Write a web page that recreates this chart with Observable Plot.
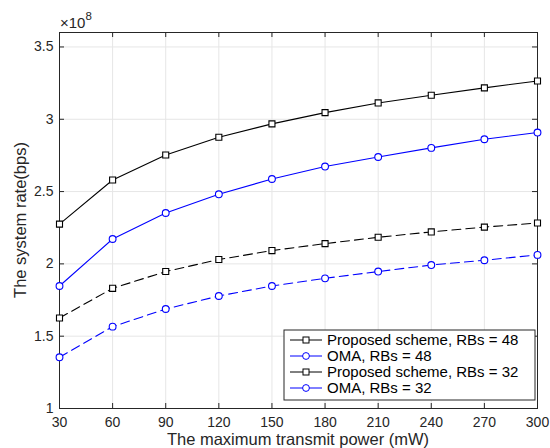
<!DOCTYPE html>
<html>
<head>
<meta charset="utf-8">
<script src="https://cdn.jsdelivr.net/npm/d3@7"></script>
<script src="https://cdn.jsdelivr.net/npm/@observablehq/plot@0.6"></script>
<style>
  html, body { margin: 0; padding: 0; background: #ffffff; }
  #chart { width: 550px; height: 448px; }
</style>
</head>
<body>
<div id="chart"></div>
<script>
// ---- data (values in units of 1e8 bps) ----
const power = [30, 60, 90, 120, 150, 180, 210, 240, 270, 300];
const proposed48 = [2.275, 2.580, 2.753, 2.876, 2.968, 3.046, 3.113, 3.166, 3.217, 3.265];
const oma48      = [1.847, 2.172, 2.352, 2.481, 2.587, 2.673, 2.739, 2.802, 2.862, 2.908];
const proposed32 = [1.626, 1.831, 1.947, 2.030, 2.092, 2.140, 2.184, 2.221, 2.254, 2.283];
const oma32      = [1.354, 1.566, 1.688, 1.778, 1.847, 1.900, 1.947, 1.992, 2.025, 2.062];
const seriesNames = ["Proposed scheme, RBs = 48", "OMA, RBs = 48", "Proposed scheme, RBs = 32", "OMA, RBs = 32"];
const xTicks = [30, 60, 90, 120, 150, 180, 210, 240, 270, 300];
const yTicks = [1, 1.5, 2, 2.5, 3, 3.5];
const yTickLabels = ["1", "1.5", "2", "2.5", "3", "3.5"];
const xLabel = "The maximum transmit power (mW)";
const yLabel = "The system rate(bps)";
const multiplierBase = "\u00D710";
const multiplierExp = "8";

// ---- styles ----
const seriesValues = [proposed48, oma48, proposed32, oma32];
const seriesStyle = [
  {color: "#000000", dash: null,  symbol: "square"},
  {color: "#0000ff", dash: null,  symbol: "circle"},
  {color: "#000000", dash: "9,5", symbol: "square"},
  {color: "#0000ff", dash: "9,5", symbol: "circle"}
];
const axisColor = "#262626";
const gridColor = "#e6e6e6";
const W = 550, H = 448;
const M = {left: 59, right: 13, top: 32, bottom: 40};
const font = "'Liberation Sans', Arial, Helvetica, sans-serif";

const series = seriesNames.map((name, k) =>
  power.map((p, i) => ({x: p, y: seriesValues[k][i], s: name}))
);

const marks = [
  Plot.gridX(xTicks, {stroke: gridColor, strokeOpacity: 1}),
  Plot.gridY(yTicks, {stroke: gridColor, strokeOpacity: 1}),
  Plot.frame({stroke: axisColor, strokeWidth: 1}),
  // inward tick marks on all four sides
  Plot.ruleX(xTicks, {x: d => d, y1: 1, y2: 1, insetTop: -5, stroke: axisColor}),
  Plot.ruleX(xTicks, {x: d => d, y1: 3.6, y2: 3.6, insetBottom: -5, stroke: axisColor}),
  Plot.ruleY(yTicks, {y: d => d, x1: 30, x2: 30, insetRight: -5, stroke: axisColor}),
  Plot.ruleY(yTicks, {y: d => d, x1: 300, x2: 300, insetLeft: -5, stroke: axisColor}),
  Plot.axisX(xTicks, {tickSize: 0, tickPadding: 9, label: null, tickFormat: d => String(d), fill: axisColor}),
  Plot.axisY(yTicks, {tickSize: 0, tickPadding: 6, label: null, tickFormat: d => yTickLabels[yTicks.indexOf(d)], fill: axisColor})
];
series.forEach((rows, k) => {
  const st = seriesStyle[k];
  marks.push(Plot.line(rows, {x: "x", y: "y", stroke: st.color, strokeWidth: 1.1, strokeDasharray: st.dash}));
  marks.push(Plot.dot(rows, {x: "x", y: "y", symbol: st.symbol, r: 3.4, stroke: st.color, strokeWidth: 1.1, fill: "white"}));
});

const chart = Plot.plot({
  width: W, height: H,
  marginLeft: M.left, marginRight: M.right, marginTop: M.top, marginBottom: M.bottom,
  style: {fontFamily: font, fontSize: "14px", color: axisColor, background: "white"},
  x: {domain: [30, 300]},
  y: {domain: [1, 3.6]},
  marks
});
document.getElementById("chart").appendChild(chart);

const svg = d3.select(chart);
// axis titles
svg.append("text")
  .attr("x", (M.left + W - M.right) / 2).attr("y", H - 3)
  .attr("text-anchor", "middle").attr("fill", axisColor)
  .style("font-family", font).style("font-size", "16.5px")
  .text(xLabel);
svg.append("text")
  .attr("transform", `translate(26,${(M.top + H - M.bottom) / 2}) rotate(-90)`)
  .attr("text-anchor", "middle").attr("fill", axisColor)
  .style("font-family", font).style("font-size", "16.5px")
  .text(yLabel);
// exponent multiplier
const mt = svg.append("text")
  .attr("x", M.left + 1).attr("y", 28).attr("fill", axisColor).attr("text-anchor", "start")
  .style("font-family", font).style("font-size", "15px");
mt.append("tspan").text(multiplierBase);
mt.append("tspan").attr("dy", -8).style("font-size", "11.5px").text(multiplierExp);

// legend
const lg = {x: 284, y: 330, w: 251, h: 70, row: 16, fs: 15};
const g = svg.append("g").attr("text-anchor", "start");
g.append("rect").attr("x", lg.x).attr("y", lg.y).attr("width", lg.w).attr("height", lg.h)
  .attr("fill", "white").attr("stroke", axisColor).attr("stroke-width", 1);
seriesNames.forEach((name, k) => {
  const st = seriesStyle[k];
  const cy = lg.y + 10 + k * lg.row;
  g.append("line").attr("x1", lg.x + 6).attr("x2", lg.x + 38).attr("y1", cy).attr("y2", cy)
    .attr("stroke", st.color).attr("stroke-width", 1);
  if (st.symbol === "square") {
    g.append("rect").attr("x", lg.x + 22 - 3).attr("y", cy - 3).attr("width", 6).attr("height", 6)
      .attr("fill", "white").attr("stroke", st.color);
  } else {
    g.append("circle").attr("cx", lg.x + 22).attr("cy", cy).attr("r", 3.4)
      .attr("fill", "white").attr("stroke", st.color);
  }
  g.append("text").attr("x", lg.x + 43).attr("y", cy).attr("dy", "0.35em").attr("text-anchor", "start")
    .attr("fill", "#000").style("font-family", font).style("font-size", lg.fs + "px")
    .text(name);
});
</script>
</body>
</html>
